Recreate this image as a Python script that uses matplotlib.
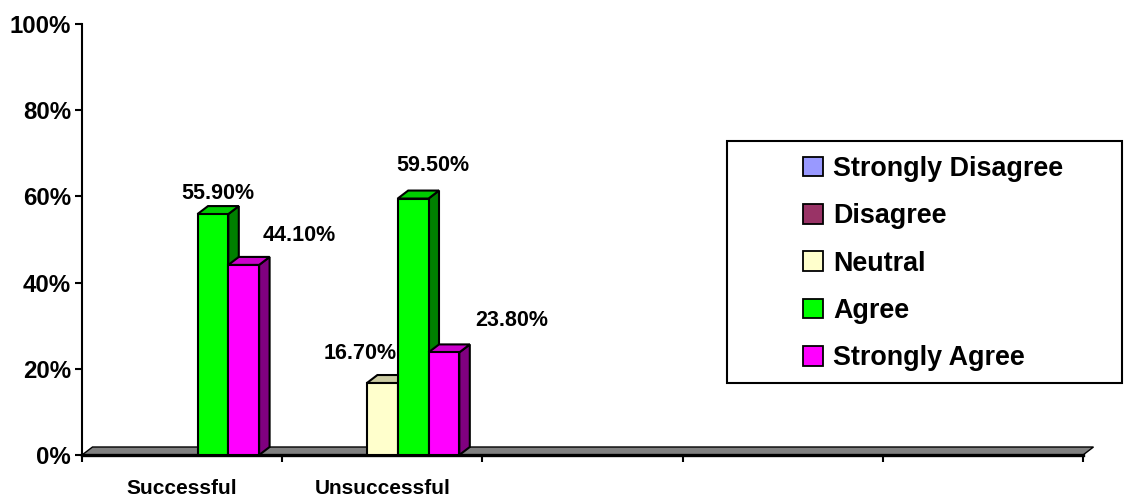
import matplotlib
matplotlib.use("Agg")
import matplotlib.pyplot as plt
from matplotlib import font_manager
from matplotlib.patches import Polygon, Patch, Rectangle
from matplotlib.ticker import FuncFormatter

# ---- data -------------------------------------------------------------
categories = ["Successful", "Unsuccessful", "", "", ""]
series_names = ["Strongly Disagree", "Disagree", "Neutral", "Agree", "Strongly Agree"]
strongly_disagree = [0.0, 0.0, 0, 0, 0]
disagree = [0.0, 0.0, 0, 0, 0]
neutral = [0.0, 16.7, 0, 0, 0]
agree = [55.9, 59.5, 0, 0, 0]
strongly_agree = [44.1, 23.8, 0, 0, 0]
y_ticks = [0, 20, 40, 60, 80, 100]

series_values = [strongly_disagree, disagree, neutral, agree, strongly_agree]

# ---- style ------------------------------------------------------------
front_colors = ["#9999FF", "#993366", "#FFFFCC", "#00FF00", "#FF00FF"]
side_colors = ["#4D4D80", "#4D1A33", "#808066", "#008000", "#800080"]
top_colors = ["#7A7ACC", "#7A2952", "#CCCCA3", "#00CC00", "#CC00CC"]

available = {f.name for f in font_manager.fontManager.ttflist}
BASE = "Liberation Sans" if "Liberation Sans" in available else "DejaVu Sans"
NARROW = "Liberation Sans Narrow" if "Liberation Sans Narrow" in available else BASE
plt.rcParams["font.family"] = [BASE, "DejaVu Sans"]
plt.rcParams["font.weight"] = "bold"

W, H, DPI = 1127, 500, 100
fig = plt.figure(figsize=(W / DPI, H / DPI), dpi=DPI)
fig.patch.set_facecolor("white")

ax_left, ax_bottom, ax_w, ax_h = 82, 45, 1001, 431
ax = fig.add_axes([ax_left / W, ax_bottom / H, ax_w / W, ax_h / H])
ax.patch.set_visible(False)
n_cat = len(categories)
ax.set_xlim(0, n_cat)
ax.set_ylim(0, 100)

# depth of the pseudo-3D boxes, in pixels, converted to data units
depth_px = (10.5, 8.0)
ddx = depth_px[0] * n_cat / ax_w
ddy = depth_px[1] * 100 / ax_h

# floor
floor = Polygon([(0, 0), (n_cat, 0), (n_cat + ddx, ddy), (ddx, ddy)],
                closed=True, facecolor="#808080", edgecolor="black",
                linewidth=1.0, clip_on=False, zorder=1)
ax.add_patch(floor)

# bars: Excel-like gap width of 150%
n_ser = len(series_values)
slot = n_ser + 1.5
bar_w = 1.0 / slot
edge_lw = 1.5
bars_by_series = []
for j, vals in enumerate(series_values):
    xs = [i + 0.75 / slot + (j + 0.5) / slot for i in range(n_cat)]
    mask = [v > 0 for v in vals]
    xs_d = [x for x, m in zip(xs, mask) if m]
    vs_d = [v for v, m in zip(vals, mask) if m]
    z = 2 + j
    bars = ax.bar(xs_d, vs_d, width=bar_w, color=front_colors[j],
                  edgecolor="black", linewidth=edge_lw, zorder=z + 0.5,
                  clip_on=False)
    for b in bars:
        x0, w, h = b.get_x(), b.get_width(), b.get_height()
        side = Polygon([(x0 + w, 0), (x0 + w + ddx, ddy),
                        (x0 + w + ddx, h + ddy), (x0 + w, h)],
                       closed=True, facecolor=side_colors[j], edgecolor="black",
                       linewidth=edge_lw, zorder=z + 0.2, clip_on=False,
                       joinstyle="miter")
        top = Polygon([(x0, h), (x0 + w, h), (x0 + w + ddx, h + ddy),
                       (x0 + ddx, h + ddy)],
                      closed=True, facecolor=top_colors[j], edgecolor="black",
                      linewidth=edge_lw, zorder=z + 0.2, clip_on=False,
                      joinstyle="miter")
        ax.add_patch(side)
        ax.add_patch(top)
    bars_by_series.append((bars, vs_d))

# value labels: offsets from the bar's top centre, in pixels
label_offsets_px = {
    (3, 0): (5, 21),
    (4, 0): (56, 29),
    (2, 1): (-22, 30),
    (3, 1): (20, 33),
    (4, 1): (68, 32),
}
for j, (bars, vs) in enumerate(bars_by_series):
    for b, v in zip(bars, vs):
        cat = int(b.get_x())
        dx, dy = label_offsets_px.get((j, cat), (0, 20))
        ax.annotate(f"{v:.2f}%", xy=(b.get_x() + b.get_width() / 2, v),
                    xytext=(dx * 0.72, dy * 0.72), textcoords="offset points",
                    ha="center", va="center", fontsize=15.5,
                    fontweight="bold", zorder=20, annotation_clip=False)

# axes
for s in ("top", "right"):
    ax.spines[s].set_visible(False)
ax.spines["left"].set_linewidth(1.5)
ax.spines["bottom"].set_linewidth(2.4)
ax.spines["bottom"].set_zorder(1.5)

ax.set_yticks(y_ticks)
ax.yaxis.set_major_formatter(FuncFormatter(lambda v, _: f"{v:.0f}%"))
ax.tick_params(axis="y", direction="out", length=5, width=1.5, pad=3,
               labelsize=17.3)
for lab in ax.get_yticklabels():
    lab.set_fontweight("bold")

ax.set_xticks(range(n_cat + 1))
ax.set_xticklabels([])
ax.tick_params(axis="x", which="major", direction="out", length=5, width=1.5)
ax.set_xticks([i + 0.5 for i in range(n_cat)], minor=True)
ax.set_xticklabels(categories, minor=True)
cat_size = 17.8 if NARROW != BASE else 15.0
ax.tick_params(axis="x", which="minor", length=0, pad=17)
for lab in ax.get_xticklabels(minor=True):
    lab.set_fontfamily([NARROW, "DejaVu Sans"])
    lab.set_fontsize(cat_size)
    lab.set_fontweight("bold")

# legend with its own frame
box = (727, 141, 1122, 383)  # pixel box, top-left origin
fig.add_artist(Rectangle((box[0] / W, 1 - box[3] / H),
                         (box[2] - box[0]) / W, (box[3] - box[1]) / H,
                         transform=fig.transFigure, facecolor="white",
                         edgecolor="black", linewidth=1.5, zorder=5))
handles = [Patch(facecolor=c, edgecolor="black", linewidth=1.3) for c in front_colors]
leg_fs = 19.4
leg_px = leg_fs / 0.72
leg = fig.legend(handles, series_names, loc="upper left",
                 bbox_to_anchor=(803 / W, 1 - 156 / H),
                 bbox_transform=fig.transFigure, frameon=False,
                 borderaxespad=0, borderpad=0,
                 handlelength=20 / leg_px, handleheight=20 / leg_px,
                 handletextpad=10 / leg_px, labelspacing=0.79,
                 prop={"size": leg_fs, "weight": "bold"})
leg.set_zorder(6)

fig.savefig("out.png", dpi=DPI, facecolor="white")
